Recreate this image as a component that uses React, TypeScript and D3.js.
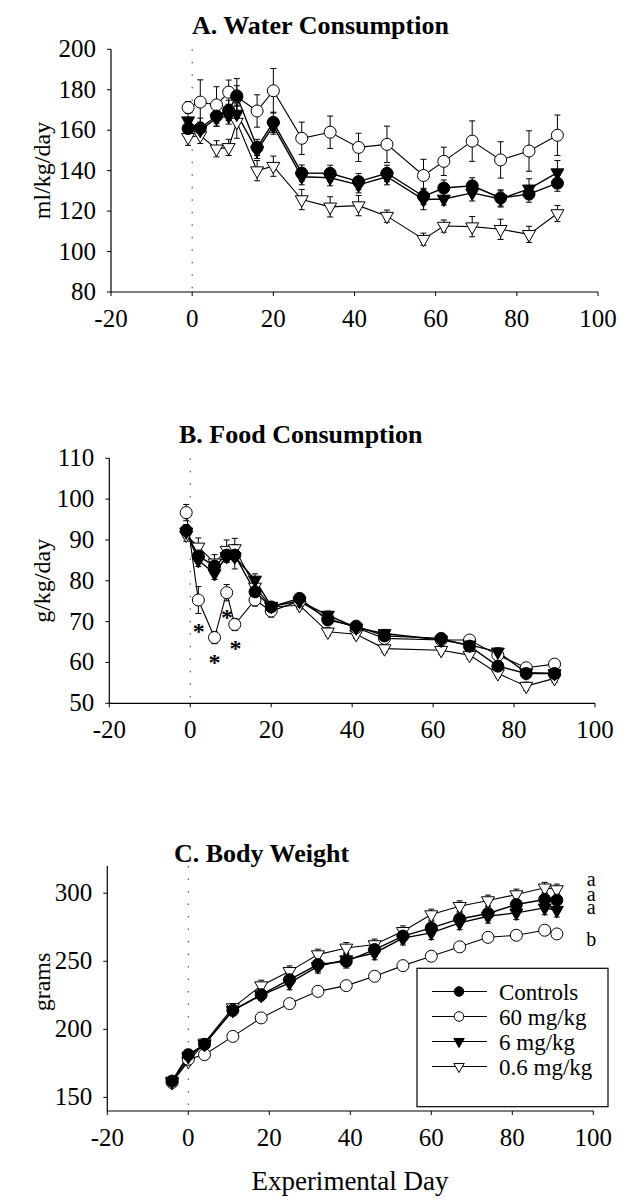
import React from "react";
import * as d3 from "d3";

// ---------- DATA ----------
const seriesNames = ["Controls", "60 mg/kg", "6 mg/kg", "0.6 mg/kg"];
const xTicks = [-20, 0, 20, 40, 60, 80, 100];

// A. Water consumption (ml/kg/day)
const waterDays = [-1, 2, 6, 9, 11, 16, 20, 27, 34, 41, 48, 57, 62, 69, 76, 83, 90];
const waterCtrl = [160.8, 161, 167, 169.8, 177, 151.5, 163.9, 138.8, 138.7, 134.6, 138.7, 127.3, 131.4, 132.5, 126.5, 128.4, 133.8];
const water60 = [171.2, 173.9, 172.5, 178.8, 176.5, 169.5, 179.5, 156, 159, 151.5, 153, 137.6, 144.6, 154.6, 145.3, 149.7, 157.5];
const water6 = [164.7, 160, 166, 167, 168, 150, 162, 137, 136.5, 133, 137, 125.7, 126, 129, 126, 131, 139];
const water06 = [156.5, 157.4, 150.8, 151.5, 164, 140, 142.2, 125.7, 122.1, 122.7, 117.5, 106.1, 112.6, 112.3, 111, 108.5, 118.8];
const waterCtrlErr = [5, 5, 5, 5, 5, 4, 5, 4, 4, 4, 4, 4, 4, 4, 4, 4, 4];
const water60Err = [3, 11, 9, 6, 9, 8, 11, 8, 8, 7, 9, 8, 7, 10, 9, 10, 10];
const water6Err = [4, 4, 4, 4, 5, 4, 4, 4, 4, 4, 4, 5, 3, 4, 4, 5, 6];
const water06Err = [4, 4, 4, 4, 8, 5, 5, 5, 5, 5, 3, 3, 3, 5, 5, 4, 4];
const waterYTicks = [80, 100, 120, 140, 160, 180, 200];

// B. Food consumption (g/kg/day)
const foodDays = [-1, 2, 6, 9, 11, 16, 20, 27, 34, 41, 48, 62, 69, 76, 83, 90];
const foodCtrl = [92.3, 86.1, 83.6, 86.3, 86.3, 77.3, 73.6, 75.7, 70.4, 68.9, 66.5, 65.9, 64, 59.1, 57.3, 57.3];
const food60 = [96.7, 75.3, 66.1, 77.1, 69.3, 75.3, 72.6, 75, 70.8, 68.5, 65.9, 65.5, 65.5, 61.8, 58.7, 59.6];
const food6 = [92, 85, 81.8, 86, 85.9, 80.2, 73.8, 75, 71.6, 68.5, 67.1, 65.5, 64.3, 62.6, 57.5, 57.3];
const food06 = [91.2, 88.3, 84.4, 87.5, 87.9, 78.5, 73.6, 74, 67.5, 66.9, 63.4, 63, 61.8, 57.3, 54.2, 56.1];
const foodCtrlErr = [1.5, 1.5, 1.5, 1.5, 1.5, 1, 1, 1, 1, 1, 1, 1, 1, 1, 1, 1];
const food60Err = [2, 3.3, 1.5, 2, 1.5, 1.5, 1.5, 1, 1, 1, 1, 1, 1, 1, 1, 1];
const food6Err = [1.5, 1.5, 1.5, 1.5, 3, 1.5, 1, 1, 1, 1, 1, 1, 1, 1, 1, 1];
const food06Err = [1.5, 2.2, 2, 2.5, 2.5, 1, 1, 1, 1, 1, 1, 1, 1, 1, 1, 1];
const foodYTicks = [50, 60, 70, 80, 90, 100, 110];
const foodStarDays = [2.1, 6, 9.1, 11.2];
const foodStarVals = [68.6, 61.0, 72.0, 64.5];

// C. Body weight (grams)
const bodyDays = [-4, 0, 4, 11, 18, 25, 32, 39, 46, 53, 60, 67, 74, 81, 88, 91];
const bodyCtrl = [162, 181.4, 189, 214, 225.5, 236.5, 247.6, 250, 258.6, 268.5, 274.5, 281.1, 285.1, 291.7, 295.4, 294.9];
const body60 = [161, 178, 181.4, 194.8, 208.4, 218.9, 227.9, 232.1, 239, 246.8, 253.7, 260.6, 267.6, 269.1, 272.8, 270.1];
const body6 = [162, 180, 189, 214, 225, 234.1, 246.3, 251.2, 256.1, 267, 270.9, 278.2, 283.1, 285.6, 289.2, 287.5];
const body06 = [161, 176.5, 190, 216, 232.1, 242.6, 254.9, 259.8, 262.3, 272, 284.3, 290.4, 294.6, 299, 304, 302.7];
const bodyCtrlErr = [3, 3, 3, 4, 4, 4, 5, 5, 5, 5, 5, 5, 5, 5, 5, 5];
const body60Err = [2, 2, 2, 2, 2, 2, 2, 2, 2, 2, 2, 2, 2, 2, 2, 2];
const body6Err = [3, 3, 3, 4, 4, 5, 5, 5, 5, 5, 5, 5, 5, 5, 5, 5];
const body06Err = [3, 3, 3, 3, 4, 4, 4, 4, 4, 4, 4, 4, 4, 4, 4, 4];
const bodyYTicks = [150, 200, 250, 300];
const bodyLetters = ["a", "a", "a", "b"];
const bodyLetterVals = [305, 294, 284.5, 261];
const bodyLetterDay = 99.5;

// ---------- DRAWING ----------
const FONT = '"Liberation Serif", "DejaVu Serif", "Times New Roman", serif';

function Marker({ kind, x, y, r = 6 }) {
  const filled = kind === 0 || kind === 2;
  const fill = filled ? "#000" : "#fff";
  if (kind === 0 || kind === 1) {
    return <circle cx={x} cy={y} r={r} fill={fill} stroke="#000" strokeWidth={1} />;
  }
  const s = r * 1.08;
  const h = r * 1.9;
  const pts = [
    [x - s, y - h / 3],
    [x + s, y - h / 3],
    [x, y + (2 * h) / 3],
  ]
    .map((p) => p.join(","))
    .join(" ");
  return <polygon points={pts} fill={fill} stroke="#000" strokeWidth={1} />;
}

function T({ children, size, bold, ...rest }) {
  return (
    <text {...rest} style={{ fontFamily: FONT, fontSize: size + "px", fontWeight: bold ? "bold" : "normal" }}>
      {children}
    </text>
  );
}

function Panel({ days, series, errs, yDomain, yTicks, xRange, yRange, title, titleX, titleY, ylabel, ylabelY, children }) {
  const x = d3.scaleLinear().domain([-20, 100]).range(xRange);
  const y = d3.scaleLinear().domain(yDomain).range(yRange);
  const line = d3
    .line()
    .x((d) => x(d[0]))
    .y((d) => y(d[1]));
  const order = [3, 1, 2, 0];
  return (
    <g>
      <T x={titleX} y={titleY} size={26} bold>
        {title}
      </T>
      {/* dotted line at day 0 */}
      <line x1={x(0)} x2={x(0)} y1={yRange[1]} y2={yRange[0]} stroke="#333" strokeWidth={1} strokeDasharray="1.5,11" />
      {/* axes */}
      <line x1={xRange[0]} x2={xRange[0]} y1={yRange[1]} y2={yRange[0]} stroke="#000" strokeWidth={1.2} />
      <line x1={xRange[0]} x2={xRange[1]} y1={yRange[0]} y2={yRange[0]} stroke="#000" strokeWidth={1.2} />
      {yTicks.map((t) => (
        <g key={"y" + t}>
          <line x1={xRange[0] - 4} x2={xRange[0]} y1={y(t)} y2={y(t)} stroke="#000" />
          <T x={xRange[0] - 15} y={y(t) + 8} textAnchor="end" size={25}>
            {t}
          </T>
        </g>
      ))}
      {xTicks.map((t) => (
        <g key={"x" + t}>
          <line x1={x(t)} x2={x(t)} y1={yRange[0]} y2={yRange[0] + 4} stroke="#000" />
          <T x={x(t)} y={yRange[0] + 35} textAnchor="middle" size={25}>
            {t}
          </T>
        </g>
      ))}
      <T transform={`translate(50,${ylabelY}) rotate(-90)`} textAnchor="middle" size={24}>
        {ylabel}
      </T>
      {/* lines */}
      {order.map((si) => (
        <path
          key={"l" + si}
          d={line(days.map((d, i) => [d, series[si][i]]))}
          fill="none"
          stroke="#000"
          strokeWidth={si === 0 || si === 2 ? 1.4 : 1.1}
        />
      ))}
      {/* error bars */}
      {order.map((si) =>
        days.map((d, i) => {
          const v = series[si][i];
          const e = errs[si][i];
          const cx = x(d);
          return (
            <g key={"e" + si + "-" + i} stroke="#000" strokeWidth={1}>
              <line x1={cx} x2={cx} y1={y(v - e)} y2={y(v + e)} />
              <line x1={cx - 3} x2={cx + 3} y1={y(v - e)} y2={y(v - e)} />
              <line x1={cx - 3} x2={cx + 3} y1={y(v + e)} y2={y(v + e)} />
            </g>
          );
        })
      )}
      {/* markers */}
      {order.map((si) =>
        days.map((d, i) => <Marker key={"m" + si + "-" + i} kind={si} x={x(d)} y={y(series[si][i])} />)
      )}
      {children && children(x, y)}
    </g>
  );
}

export default function App() {
  const W = 621;
  const H = 1203;
  return (
    <svg
      width={W}
      height={H}
      viewBox={`0 0 ${W} ${H}`}
      style={{ position: "absolute", left: 0, top: 0, background: "#fff" }}
    >
      <rect x={0} y={0} width={W} height={H} fill="#fff" />
      <Panel
        days={waterDays}
        series={[waterCtrl, water60, water6, water06]}
        errs={[waterCtrlErr, water60Err, water6Err, water06Err]}
        yDomain={[80, 200]}
        yTicks={waterYTicks}
        xRange={[111, 598]}
        yRange={[292, 49.3]}
        title="A.  Water Consumption"
        titleX={192}
        titleY={34}
        ylabel="ml/kg/day"
        ylabelY={170.5}
      />
      <Panel
        days={foodDays}
        series={[foodCtrl, food60, food6, food06]}
        errs={[foodCtrlErr, food60Err, food6Err, food06Err]}
        yDomain={[50, 110]}
        yTicks={foodYTicks}
        xRange={[109.3, 595]}
        yRange={[703.3, 458.3]}
        title="B.  Food Consumption"
        titleX={179}
        titleY={443}
        ylabel="g/kg/day"
        ylabelY={580.8}
      >
        {(x, y) =>
          foodStarDays.map((d, i) => (
            <T key={"s" + i} x={x(d)} y={y(foodStarVals[i]) + 12} textAnchor="middle" size={24} bold>
              *
            </T>
          ))
        }
      </Panel>
      <Panel
        days={bodyDays}
        series={[bodyCtrl, body60, body6, body06]}
        errs={[bodyCtrlErr, body60Err, body6Err, body06Err]}
        yDomain={[140, 320]}
        yTicks={bodyYTicks}
        xRange={[107.3, 593.3]}
        yRange={[1111, 866]}
        title="C.  Body Weight"
        titleX={174}
        titleY={862}
        ylabel="grams"
        ylabelY={982}
      >
        {(x, y) => (
          <g>
            <text textAnchor="middle" style={{ fontFamily: FONT, fontSize: "20px" }}>
              {bodyLetters.map((l, i) => (
                <tspan key={"lt" + i} x={x(bodyLetterDay)} y={y(bodyLetterVals[i])}>
                  {l}
                </tspan>
              ))}
            </text>
            <rect x={417} y={968.3} width={191} height={138.4} fill="#fff" stroke="#000" strokeWidth={1.2} />
            {seriesNames.map((n, i) => {
              const ly = 991.5 + i * 25;
              return (
                <g key={"lg" + i}>
                  <line x1={432} x2={487} y1={ly} y2={ly} stroke="#000" strokeWidth={1.1} />
                  <Marker kind={i} x={459} y={ly} r={4.8} />
                  <T x={499} y={ly + 8} size={23}>
                    {n}
                  </T>
                </g>
              );
            })}
          </g>
        )}
      </Panel>
      <T x={350} y={1190} textAnchor="middle" size={27}>
        Experimental Day
      </T>
    </svg>
  );
}
